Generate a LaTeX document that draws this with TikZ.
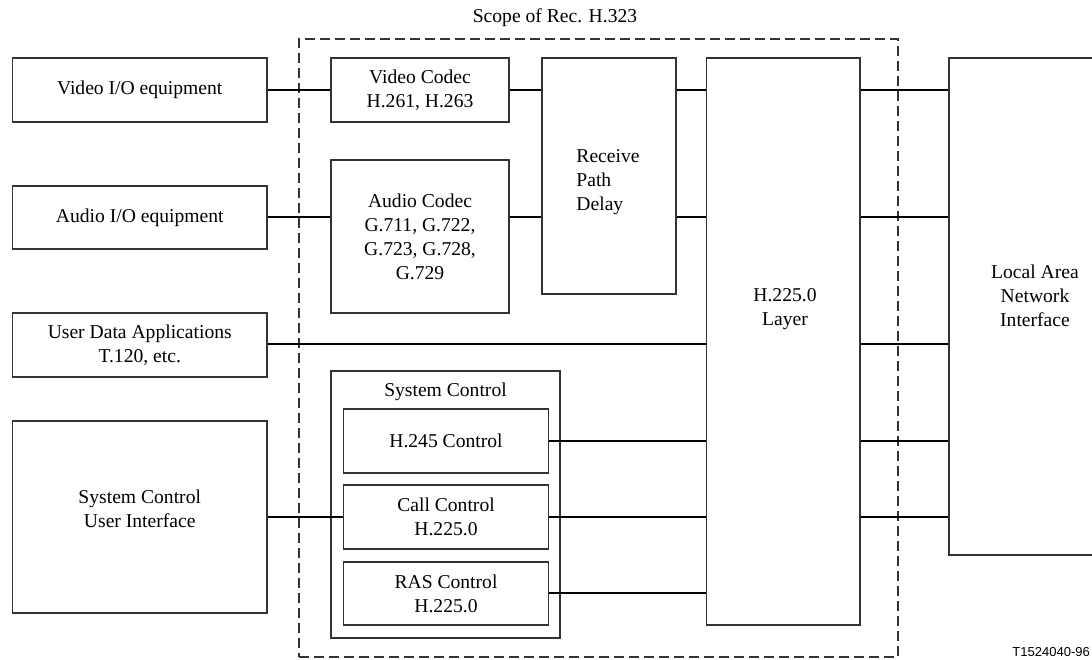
\documentclass[tikz,border=0pt]{standalone}
\usepackage{fontspec}
\setmainfont{Liberation Serif}
\newfontfamily\figsans{Liberation Sans}
\begin{document}
\begin{tikzpicture}[x=1pt,y=-1pt,
  box/.style={draw=black!80,line width=1.2pt,rectangle,inner sep=0pt,align=center},
  txt/.style={inner sep=0pt,align=center},
  link/.style={draw=black,line width=1.1pt},
  scopebox/.style={draw=black!80,line width=1.1pt,dash pattern=on 10pt off 5pt,rectangle,inner sep=0pt},
  every node/.style={font=\fontsize{19.6}{24}\selectfont}]
\useasboundingbox (0,0) rectangle (1092,660);

% signal rows
\coordinate (r1) at (0,90);
\coordinate (r2) at (0,217);
\coordinate (r3) at (0,344);
\coordinate (r4) at (0,441);
\coordinate (r5) at (0,517);
\coordinate (r6) at (0,593);

% scope of the recommendation
\node[scopebox,minimum width=599,minimum height=618] (scope) at (598.5,348) {};
\node[txt] (scopelbl) at (555,18) {Scope of Rec. H.323};

% terminal equipment
\node[box,minimum width=254.5,minimum height=64] (vio) at (139.75,90) {Video I/O equipment};
\node[box,minimum width=254.5,minimum height=63] (aio) at (139.75,217.5) {Audio I/O equipment};
\node[box,minimum width=254.5,minimum height=64] (uda) at (139.75,345) {User Data Applications\\T.120, etc.};
\node[box,minimum width=254.5,minimum height=192] (scui) at (139.75,517) {};
\node[txt] (scuit) at (139.75,509) {System Control\\User Interface};

% codecs and delay
\node[box,minimum width=178,minimum height=64] (vcodec) at (420,90) {Video Codec\\H.261, H.263};
\node[box,minimum width=178,minimum height=153] (acodec) at (420,236.5) {Audio Codec\\G.711, G.722,\\G.723, G.728,\\G.729};
\node[box,minimum width=134,minimum height=236] (rpd) at (609,176) {};
\node[txt,align=left] (rpdt) at (608,182) {Receive\\Path\\Delay};

% system control
\node[box,minimum width=229,minimum height=267] (sysctl) at (445.5,504.5) {};
\node[txt] (sysctlt) at (445.5,392) {System Control};
\node[box,minimum width=205,minimum height=64] (h245) at (446,441) {H.245 Control};
\node[box,minimum width=205,minimum height=64] (call) at (446,517) {Call Control\\H.225.0};
\node[box,minimum width=205,minimum height=63] (ras) at (446,593.5) {RAS Control\\H.225.0};

% H.225.0 layer and LAN interface
\node[box,minimum width=153.5,minimum height=567] (h225) at (783.25,341.5) {};
\node[txt] (h225t) at (785,309) {H.225.0\\Layer};
\node[box,minimum width=161,minimum height=497] (lan) at (1029.5,306.5) {};
\node[txt] (lant) at (1035,296) {Local Area\\Network\\Interface};

% connections
\draw[link] (vio.east |- r1) -- (vcodec.west |- r1);
\draw[link] (aio.east |- r2) -- (acodec.west |- r2);
\draw[link] (vcodec.east |- r1) -- (rpd.west |- r1);
\draw[link] (acodec.east |- r2) -- (rpd.west |- r2);
\draw[link] (rpd.east |- r1) -- (h225.west |- r1);
\draw[link] (rpd.east |- r2) -- (h225.west |- r2);
\draw[link] (uda.east |- r3) -- (h225.west |- r3);
\draw[link] (h245.east |- r4) -- (h225.west |- r4);
\draw[link] (call.east |- r5) -- (h225.west |- r5);
\draw[link] (ras.east |- r6) -- (h225.west |- r6);
\draw[link] (scui.east |- r5) -- (call.west |- r5);
\foreach \r in {r1,r2,r3,r4,r5}
  \draw[link] (h225.east |- \r) -- (lan.west |- \r);

% figure number
\node[inner sep=0pt,anchor=base east,font=\figsans\fontsize{13}{16}\selectfont] (fignum) at (1090,656) {T1524040-96};
\end{tikzpicture}
\end{document}
